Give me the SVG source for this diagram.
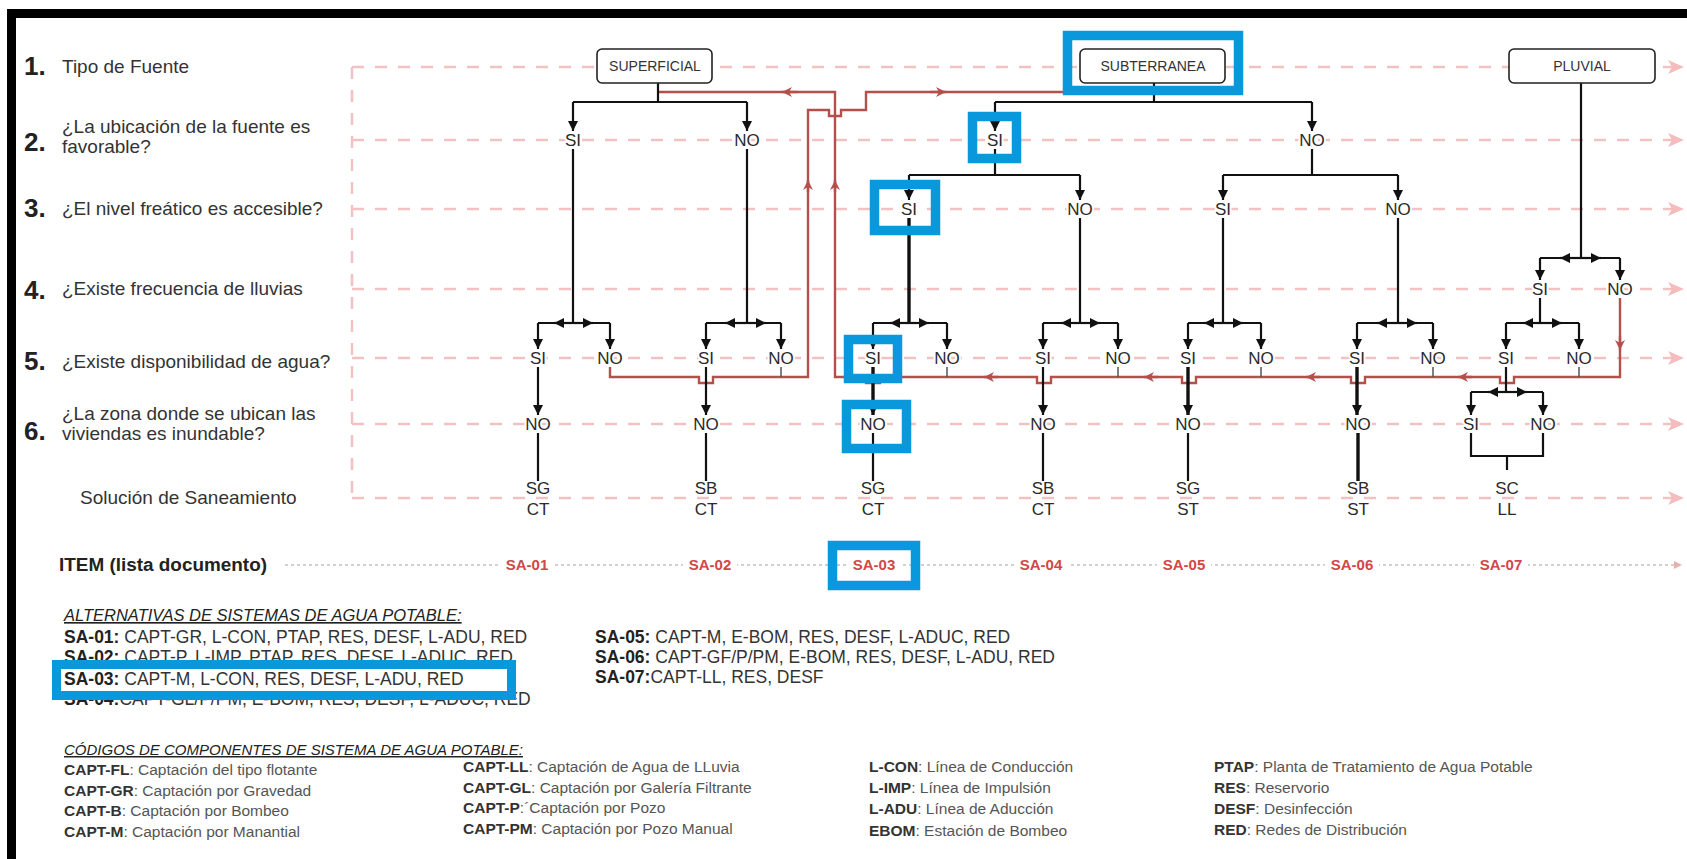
<svg xmlns="http://www.w3.org/2000/svg" width="1687" height="859" viewBox="0 0 1687 859">
<defs>
<style>
text{font-family:"Liberation Sans",Arial,sans-serif;fill:#2a2a2a}
.num{font-size:26px;font-weight:bold;fill:#222}
.q{font-size:19px;fill:#333}
.lb{font-size:17px;text-anchor:middle;stroke:#fff;stroke-width:4px;paint-order:stroke;stroke-linejoin:round}
.sol{font-size:17px;text-anchor:middle}
.box{fill:#fff;stroke:#222;stroke-width:1.6}
.bt{font-size:14px;text-anchor:middle;fill:#333}
.row{fill:none;stroke:#f2c2c2;stroke-width:2.5;stroke-dasharray:12 11}
.blk{fill:none;stroke:#111;stroke-width:2.2}
.thk{fill:none;stroke:#111;stroke-width:3.4}
.tick{fill:none;stroke:#555;stroke-width:1.5}
.red{fill:none;stroke:#b4504b;stroke-width:2.4}
.blue{fill:none;stroke:#0a98dc;stroke-width:9.5}
.sa{font-size:15px;font-weight:bold;fill:#d04848;text-anchor:middle}
.hdr{font-size:16.5px;font-style:italic;text-decoration:underline;fill:#222}
.alt{font-size:17.5px;fill:#333}
.cod{font-size:15.5px;fill:#555}
.cod tspan.k{font-weight:bold;fill:#333}
.alt tspan.k{font-weight:bold;fill:#222}
</style>
<marker id="ab" viewBox="0 0 10 10" refX="10" refY="5" markerWidth="10" markerHeight="10" markerUnits="userSpaceOnUse" orient="auto"><path d="M0,0 L10,5 L0,10 z" fill="#111"/></marker>
<marker id="ar" viewBox="0 0 10 10" refX="10" refY="5" markerWidth="11" markerHeight="10" markerUnits="userSpaceOnUse" orient="auto"><path d="M0,0 L10,5 L0,10 L3,5 z" fill="#b4504b"/></marker>
<marker id="ap" viewBox="0 0 16 14" refX="16" refY="7" markerWidth="16" markerHeight="14" markerUnits="userSpaceOnUse" orient="auto"><path d="M0,0 L16,7 L0,14 L4,7 z" fill="#f4bcbc"/></marker>
<marker id="ag" viewBox="0 0 10 10" refX="10" refY="5" markerWidth="9" markerHeight="8" markerUnits="userSpaceOnUse" orient="auto"><path d="M0,0 L10,5 L0,10 z" fill="#e8b0b0"/></marker>
</defs>
<rect width="1687" height="859" fill="#fff"/>
<rect x="11.5" y="13.5" width="1700" height="900" fill="none" stroke="#000" stroke-width="9"/>

<g id="questions">
<g id="q1"><text class="num" x="24" y="75">1.</text><text class="q" x="62" y="73">Tipo de Fuente</text></g>
<g id="q2"><text class="num" x="24" y="151">2.</text><text class="q" x="62" y="133">¿La ubicación de la fuente es</text><text class="q" x="62" y="153">favorable?</text></g>
<g id="q3"><text class="num" x="24" y="217">3.</text><text class="q" x="62" y="215">¿El nivel freático es accesible?</text></g>
<g id="q4"><text class="num" x="24" y="299">4.</text><text class="q" x="62" y="295">¿Existe frecuencia de lluvias</text></g>
<g id="q5"><text class="num" x="24" y="370">5.</text><text class="q" x="62" y="368">¿Existe disponibilidad de agua?</text></g>
<g id="q6"><text class="num" x="24" y="440">6.</text><text class="q" x="62" y="420">¿La zona donde se ubican las</text><text class="q" x="62" y="440">viviendas es inundable?</text></g>
<g id="q7"><text class="q" x="80" y="504">Solución de Saneamiento</text></g>
</g>

<g id="guides">
<path class="row" d="M352,67 V498"/>
<path class="row" d="M352,67 H1684" marker-end="url(#ap)"/>
<path class="row" d="M352,140 H1684" marker-end="url(#ap)"/>
<path class="row" d="M352,209 H1684" marker-end="url(#ap)"/>
<path class="row" d="M352,289 H1684" marker-end="url(#ap)"/>
<path class="row" d="M352,358 H1684" marker-end="url(#ap)"/>
<path class="row" d="M352,424 H1684" marker-end="url(#ap)"/>
<path class="row" d="M352,498 H1684" marker-end="url(#ap)"/>
<path d="M285,565 H1682" fill="none" stroke="#c8c0c0" stroke-width="1.3" stroke-dasharray="3 3" marker-end="url(#ag)"/>
</g>

<g id="connectors">
<path class="red" d="M610,367 V377 H699 V383 H713 V377 H808 V110 H829 V116 H841 V110 H866 V92 H1063"/>
<path class="red" d="M1620,298 V377 H1514 V383 H1500 V377 H1365 V383 H1351 V377 H1196 V383 H1182 V377 H1051 V383 H1037 V377 H880 V383 H866 V377 H835 V92 H658"/>
<path class="red" d="M808,192 V180" marker-end="url(#ar)"/>
<path class="red" d="M835,192 V180" marker-end="url(#ar)"/>
<path class="red" d="M930,92 H946" marker-end="url(#ar)"/>
<path class="red" d="M798,92 H782" marker-end="url(#ar)"/>
<path class="red" d="M1620,336 V350" marker-end="url(#ar)"/>
<path class="red" d="M1472,377 H1458" marker-end="url(#ar)"/>
<path class="red" d="M1320,377 H1306" marker-end="url(#ar)"/>
<path class="red" d="M1158,377 H1144" marker-end="url(#ar)"/>
<path class="red" d="M998,377 H984" marker-end="url(#ar)"/>
<path class="tick" d="M781,367 V377 M947,367 V377 M1118,367 V377 M1261,367 V377 M1433,367 V377 M1579,367 V377"/>

<path class="blk" d="M658,83 V102 M573,102 H747"/>
<path class="blk" d="M573,102 V131" marker-end="url(#ab)"/>
<path class="blk" d="M747,102 V131" marker-end="url(#ab)"/>
<path class="blk" d="M573,149 V323 M538,323 H610 M747,149 V323 M706,323 H781"/>
<path class="blk" d="M573,323 H554" marker-end="url(#ab)"/>
<path class="blk" d="M573,323 H593" marker-end="url(#ab)"/>
<path class="blk" d="M747,323 H725" marker-end="url(#ab)"/>
<path class="blk" d="M747,323 H766" marker-end="url(#ab)"/>
<path class="blk" d="M538,323 V349" marker-end="url(#ab)"/>
<path class="blk" d="M610,323 V349" marker-end="url(#ab)"/>
<path class="blk" d="M706,323 V349" marker-end="url(#ab)"/>
<path class="blk" d="M781,323 V349" marker-end="url(#ab)"/>

<path class="blk" d="M1154,83 V102 M995,102 H1312"/>
<path class="blk" d="M995,102 V131" marker-end="url(#ab)"/>
<path class="blk" d="M1312,102 V131" marker-end="url(#ab)"/>
<path class="blk" d="M995,149 V175 M909,175 H1080 M1312,149 V175 M1223,175 H1398"/>
<path class="blk" d="M909,175 V200" marker-end="url(#ab)"/>
<path class="blk" d="M1080,175 V200" marker-end="url(#ab)"/>
<path class="blk" d="M1223,175 V200" marker-end="url(#ab)"/>
<path class="blk" d="M1398,175 V200" marker-end="url(#ab)"/>
<path class="thk" d="M909,218 V323"/>
<path class="blk" d="M873,323 H947 M1080,218 V323 M1043,323 H1118 M1223,218 V323 M1188,323 H1261 M1398,218 V323 M1357,323 H1433"/>
<path class="blk" d="M909,323 H890" marker-end="url(#ab)"/>
<path class="blk" d="M909,323 H929" marker-end="url(#ab)"/>
<path class="blk" d="M1080,323 H1061" marker-end="url(#ab)"/>
<path class="blk" d="M1080,323 H1100" marker-end="url(#ab)"/>
<path class="blk" d="M1223,323 H1204" marker-end="url(#ab)"/>
<path class="blk" d="M1223,323 H1243" marker-end="url(#ab)"/>
<path class="blk" d="M1398,323 H1377" marker-end="url(#ab)"/>
<path class="blk" d="M1398,323 H1417" marker-end="url(#ab)"/>
<path class="blk" d="M873,323 V349" marker-end="url(#ab)"/>
<path class="blk" d="M947,323 V349" marker-end="url(#ab)"/>
<path class="blk" d="M1043,323 V349" marker-end="url(#ab)"/>
<path class="blk" d="M1118,323 V349" marker-end="url(#ab)"/>
<path class="blk" d="M1188,323 V349" marker-end="url(#ab)"/>
<path class="blk" d="M1261,323 V349" marker-end="url(#ab)"/>
<path class="blk" d="M1357,323 V349" marker-end="url(#ab)"/>
<path class="blk" d="M1433,323 V349" marker-end="url(#ab)"/>

<path class="blk" d="M538,367 V415" marker-end="url(#ab)"/>
<path class="blk" d="M706,367 V415" marker-end="url(#ab)"/>
<path class="thk" d="M873,367 V415" marker-end="url(#ab)"/>
<path class="blk" d="M1043,367 V415" marker-end="url(#ab)"/>
<path class="thk" d="M1188,367 V415" marker-end="url(#ab)"/>
<path class="thk" d="M1357,367 V415" marker-end="url(#ab)"/>
<path class="blk" d="M538,433 V481 M706,433 V481 M873,433 V481 M1043,433 V481 M1188,433 V481"/>
<path class="thk" d="M1358,433 V481"/>

<path class="blk" d="M1581,83 V258 M1540,258 H1620"/>
<path class="blk" d="M1581,258 H1560" marker-end="url(#ab)"/>
<path class="blk" d="M1581,258 H1601" marker-end="url(#ab)"/>
<path class="blk" d="M1540,258 V280" marker-end="url(#ab)"/>
<path class="blk" d="M1620,258 V280" marker-end="url(#ab)"/>
<path class="blk" d="M1540,298 V323 M1506,323 H1579"/>
<path class="blk" d="M1542,323 H1523" marker-end="url(#ab)"/>
<path class="blk" d="M1542,323 H1562" marker-end="url(#ab)"/>
<path class="blk" d="M1506,323 V349" marker-end="url(#ab)"/>
<path class="blk" d="M1579,323 V349" marker-end="url(#ab)"/>
<path class="blk" d="M1506,367 V392 M1471,392 H1543"/>
<path class="blk" d="M1507,392 H1488" marker-end="url(#ab)"/>
<path class="blk" d="M1507,392 H1527" marker-end="url(#ab)"/>
<path class="blk" d="M1471,392 V415" marker-end="url(#ab)"/>
<path class="blk" d="M1543,392 V415" marker-end="url(#ab)"/>
<path class="blk" d="M1471,433 V456 H1543 V433 M1507,456 V470"/>
</g>

<g id="n-superficial"><rect class="box" x="597" y="49" width="115" height="34" rx="5"/><text class="bt" x="655" y="71">SUPERFICIAL</text></g>
<g id="n-subterranea"><rect class="box" x="1080" y="49" width="145" height="34" rx="5"/><text class="bt" x="1153" y="71">SUBTERRANEA</text></g>
<g id="n-pluvial"><rect class="box" x="1509" y="49" width="146" height="34" rx="5"/><text class="bt" x="1582" y="71">PLUVIAL</text></g>

<g id="n-row2">
<text class="lb" x="573" y="146">SI</text><text class="lb" x="747" y="146">NO</text>
<text class="lb" x="995" y="146">SI</text><text class="lb" x="1312" y="146">NO</text>
</g>
<g id="n-row3">
<text class="lb" x="909" y="215">SI</text><text class="lb" x="1080" y="215">NO</text>
<text class="lb" x="1223" y="215">SI</text><text class="lb" x="1398" y="215">NO</text>
</g>
<g id="n-row4">
<text class="lb" x="1540" y="295">SI</text><text class="lb" x="1620" y="295">NO</text>
</g>
<g id="n-row5">
<text class="lb" x="538" y="364">SI</text><text class="lb" x="610" y="364">NO</text>
<text class="lb" x="706" y="364">SI</text><text class="lb" x="781" y="364">NO</text>
<text class="lb" x="873" y="364">SI</text><text class="lb" x="947" y="364">NO</text>
<text class="lb" x="1043" y="364">SI</text><text class="lb" x="1118" y="364">NO</text>
<text class="lb" x="1188" y="364">SI</text><text class="lb" x="1261" y="364">NO</text>
<text class="lb" x="1357" y="364">SI</text><text class="lb" x="1433" y="364">NO</text>
<text class="lb" x="1506" y="364">SI</text><text class="lb" x="1579" y="364">NO</text>
</g>
<g id="n-row6">
<text class="lb" x="538" y="430">NO</text><text class="lb" x="706" y="430">NO</text>
<text class="lb" x="873" y="430">NO</text><text class="lb" x="1043" y="430">NO</text>
<text class="lb" x="1188" y="430">NO</text><text class="lb" x="1358" y="430">NO</text>
<text class="lb" x="1471" y="430">SI</text><text class="lb" x="1543" y="430">NO</text>
</g>
<g id="n-solutions">
<text class="sol" x="538" y="494">SG</text><text class="sol" x="538" y="515">CT</text>
<text class="sol" x="706" y="494">SB</text><text class="sol" x="706" y="515">CT</text>
<text class="sol" x="873" y="494">SG</text><text class="sol" x="873" y="515">CT</text>
<text class="sol" x="1043" y="494">SB</text><text class="sol" x="1043" y="515">CT</text>
<text class="sol" x="1188" y="494">SG</text><text class="sol" x="1188" y="515">ST</text>
<text class="sol" x="1358" y="494">SB</text><text class="sol" x="1358" y="515">ST</text>
<text class="sol" x="1507" y="494">SC</text><text class="sol" x="1507" y="515">LL</text>
</g>

<g id="items">
<text x="59" y="571" style="font-size:17.5px;fill:#222;font-weight:bold" textLength="208" lengthAdjust="spacingAndGlyphs">ITEM (lista documento)</text>
<rect x="500" y="556" width="54" height="18" fill="#fff"/><text class="sa" x="527" y="570">SA-01</text>
<rect x="683" y="556" width="54" height="18" fill="#fff"/><text class="sa" x="710" y="570">SA-02</text>
<rect x="847" y="556" width="54" height="18" fill="#fff"/><text class="sa" x="874" y="570">SA-03</text>
<rect x="1014" y="556" width="54" height="18" fill="#fff"/><text class="sa" x="1041" y="570">SA-04</text>
<rect x="1157" y="556" width="54" height="18" fill="#fff"/><text class="sa" x="1184" y="570">SA-05</text>
<rect x="1325" y="556" width="54" height="18" fill="#fff"/><text class="sa" x="1352" y="570">SA-06</text>
<rect x="1474" y="556" width="54" height="18" fill="#fff"/><text class="sa" x="1501" y="570">SA-07</text>
</g>

<g id="alternativas">
<text class="hdr" x="64" y="621">ALTERNATIVAS DE SISTEMAS DE AGUA POTABLE:</text>
<text class="alt" x="64" y="643"><tspan class="k">SA-01:</tspan> CAPT-GR, L-CON, PTAP, RES, DESF, L-ADU, RED</text>
<text class="alt" x="64" y="663"><tspan class="k">SA-02:</tspan> CAPT-P, L-IMP, PTAP, RES, DESF, L-ADUC, RED</text>
<text class="alt" x="64" y="705"><tspan class="k">SA-04:</tspan>CAPT-GL/P/PM, E-BOM, RES, DESF, L-ADUC, RED</text>
<rect x="56.5" y="664.5" width="455" height="31" fill="#fff" stroke="#0a98dc" stroke-width="9"/>
<text class="alt" x="64" y="685"><tspan class="k">SA-03:</tspan> CAPT-M, L-CON, RES, DESF, L-ADU, RED</text>
<text class="alt" x="595" y="643"><tspan class="k">SA-05:</tspan> CAPT-M, E-BOM, RES, DESF, L-ADUC, RED</text>
<text class="alt" x="595" y="663"><tspan class="k">SA-06:</tspan> CAPT-GF/P/PM, E-BOM, RES, DESF, L-ADU, RED</text>
<text class="alt" x="595" y="683"><tspan class="k">SA-07:</tspan>CAPT-LL, RES, DESF</text>
</g>

<g id="codigos">
<text class="hdr" x="64" y="755" style="font-size:15px">CÓDIGOS DE COMPONENTES DE SISTEMA DE AGUA POTABLE:</text>
<text class="cod" x="64" y="775"><tspan class="k">CAPT-FL</tspan>: Captación del tipo flotante</text>
<text class="cod" x="64" y="796"><tspan class="k">CAPT-GR</tspan>: Captación por Gravedad</text>
<text class="cod" x="64" y="816"><tspan class="k">CAPT-B</tspan>: Captación por Bombeo</text>
<text class="cod" x="64" y="837"><tspan class="k">CAPT-M</tspan>: Captación por Manantial</text>
<text class="cod" x="463" y="772"><tspan class="k">CAPT-LL</tspan>: Captación de Agua de LLuvia</text>
<text class="cod" x="463" y="793"><tspan class="k">CAPT-GL</tspan>: Captación por Galería Filtrante</text>
<text class="cod" x="463" y="813"><tspan class="k">CAPT-P</tspan>:´Captación por Pozo</text>
<text class="cod" x="463" y="834"><tspan class="k">CAPT-PM</tspan>: Captación por Pozo Manual</text>
<text class="cod" x="869" y="772"><tspan class="k">L-CON</tspan>: Línea de Conducción</text>
<text class="cod" x="869" y="793"><tspan class="k">L-IMP</tspan>: Línea de Impulsión</text>
<text class="cod" x="869" y="814"><tspan class="k">L-ADU</tspan>: Línea de Aducción</text>
<text class="cod" x="869" y="836"><tspan class="k">EBOM</tspan>: Estación de Bombeo</text>
<text class="cod" x="1214" y="772"><tspan class="k">PTAP</tspan>: Planta de Tratamiento de Agua Potable</text>
<text class="cod" x="1214" y="793"><tspan class="k">RES</tspan>: Reservorio</text>
<text class="cod" x="1214" y="814"><tspan class="k">DESF</tspan>: Desinfección</text>
<text class="cod" x="1214" y="835"><tspan class="k">RED</tspan>: Redes de Distribución</text>
</g>

<g id="highlights">
<rect class="blue" x="1067.5" y="35.5" width="171" height="55"/>
<rect class="blue" x="972.5" y="116.5" width="44" height="42"/>
<rect class="blue" x="874.5" y="184.5" width="61" height="46"/>
<rect class="blue" x="848.5" y="339.5" width="49" height="39"/>
<rect class="blue" x="846.5" y="404.5" width="60" height="44"/>
<rect class="blue" x="832.5" y="545.5" width="83" height="40"/>
</g>
</svg>
